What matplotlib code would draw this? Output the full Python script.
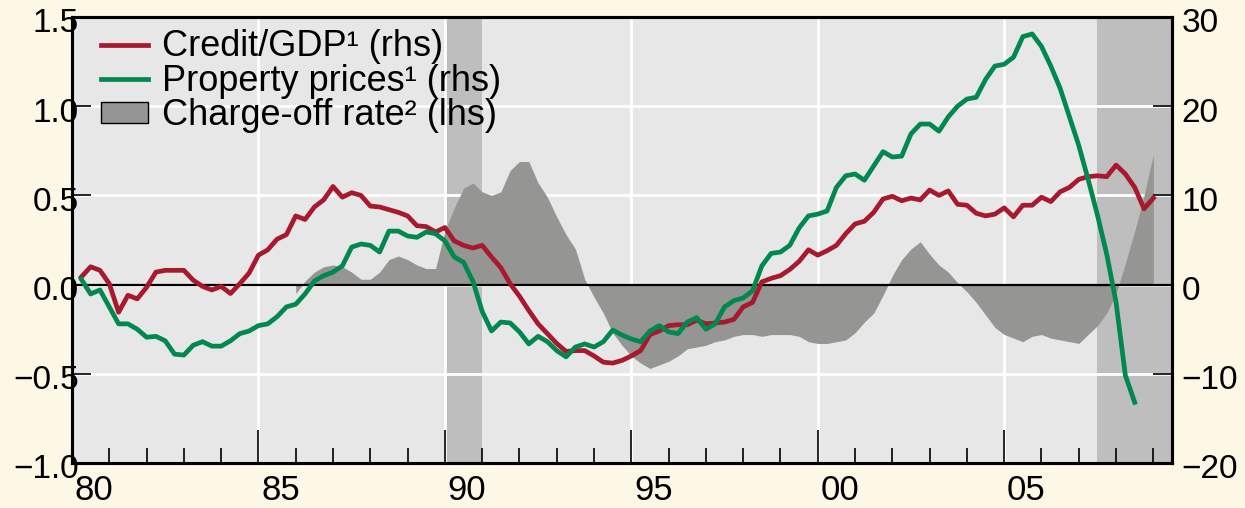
import numpy as np
import matplotlib.pyplot as plt
from matplotlib.lines import Line2D
from matplotlib.patches import Patch
from matplotlib.transforms import ScaledTranslation

plt.rcParams['font.family'] = ['Liberation Sans', 'DejaVu Sans']

# quarterly data, credit/GDP and property prices from 1980Q1, charge-off rate from 1985Q4
credit_gdp = [
    0.85, 2.0, 1.6,
    0.1, -3.1, -1.2, -1.6,
    -0.3, 1.4, 1.6, 1.6,
    1.6, 0.5, -0.2, -0.6,
    -0.2, -1.0, 0.1, 1.3,
    3.3, 3.9, 5.1, 5.6,
    7.7, 7.3, 8.7, 9.5,
    11.0, 9.8, 10.3, 10.0,
    8.8, 8.7, 8.4, 8.1,
    7.7, 6.6, 6.5, 5.9,
    6.4, 4.9, 4.4, 4.1,
    4.4, 3.1, 1.9, 0.1,
    -1.3, -2.9, -4.4, -5.5,
    -6.6, -7.5, -7.4, -7.4,
    -8.0, -8.7, -8.8, -8.5,
    -8.0, -7.4, -5.6, -5.2,
    -4.6, -4.5, -4.5, -4.0,
    -4.4, -4.3, -4.2, -3.9,
    -2.5, -2.0, 0.3, 0.7,
    1.0, 1.7, 2.6, 3.9,
    3.3, 3.8, 4.4, 5.7,
    6.8, 7.1, 8.1, 9.6,
    9.9, 9.4, 9.7, 9.5,
    10.6, 10.0, 10.5, 9.0,
    8.9, 8.0, 7.7, 7.9,
    8.6, 7.6, 8.9, 8.9,
    9.8, 9.3, 10.4, 10.9,
    11.8, 12.1, 12.2, 12.1,
    13.4, 12.4, 10.9, 8.5,
    9.7,
]

property_prices = [
    0.6, -1.05, -0.6,
    -2.5, -4.4, -4.4, -5.0,
    -5.9, -5.8, -6.3, -7.8,
    -7.9, -6.8, -6.4, -6.9,
    -6.9, -6.3, -5.5, -5.2,
    -4.6, -4.4, -3.6, -2.5,
    -2.2, -1.05, 0.4, 1.0,
    1.4, 2.1, 4.2, 4.55,
    4.4, 3.65, 6.0, 6.0,
    5.45, 5.3, 5.9, 5.7,
    4.9, 3.1, 2.5, 0.4,
    -3.0, -5.2, -4.2, -4.3,
    -5.3, -6.65, -5.8, -6.4,
    -7.4, -8.1, -7.0, -6.65,
    -7.0, -6.4, -5.1, -5.65,
    -6.1, -6.4, -5.2, -4.6,
    -5.3, -5.5, -4.2, -3.7,
    -5.0, -4.4, -2.5, -1.8,
    -1.5, -0.7, 2.1, 3.5,
    3.65, 4.4, 6.35, 7.7,
    7.9, 8.25, 10.9, 12.2,
    12.4, 11.7, 13.3, 14.9,
    14.3, 14.4, 16.9, 18.0,
    18.0, 17.2, 18.8, 20.0,
    20.8, 21.0, 23.0, 24.5,
    24.7, 25.5, 27.8, 28.1,
    26.7, 24.5, 22.0, 18.8,
    15.6, 11.8, 7.8, 3.4,
    -2.0, -10.2, -13.2,
]

charge_off = [
    -0.05, 0.02, 0.07, 0.10,
    0.11, 0.10, 0.07, 0.03,
    0.03, 0.07, 0.14, 0.16,
    0.14, 0.11, 0.09, 0.09,
    0.30, 0.43, 0.54, 0.57,
    0.52, 0.50, 0.52, 0.64,
    0.69, 0.69, 0.57, 0.49,
    0.38, 0.28, 0.20, 0.03,
    -0.07, -0.16, -0.27, -0.34,
    -0.40, -0.44, -0.47, -0.45,
    -0.43, -0.40, -0.36, -0.35,
    -0.34, -0.32, -0.31, -0.29,
    -0.28, -0.28, -0.29, -0.28,
    -0.28, -0.28, -0.29, -0.32,
    -0.33, -0.33, -0.32, -0.31,
    -0.27, -0.21, -0.16, -0.06,
    0.05, 0.14, 0.20, 0.24,
    0.17, 0.11, 0.07, 0.01,
    -0.04, -0.10, -0.17, -0.24,
    -0.28, -0.30, -0.32, -0.29,
    -0.28, -0.30, -0.31, -0.32,
    -0.33, -0.28, -0.23, -0.16,
    -0.05, 0.12, 0.30, 0.50,
    0.73,
]

recessions = [(1990.0, 1991.0), (2007.5, 2009.6)]
year_labels = ['80', '85', '90', '95', '00', '05']

t_credit = 1980.25 + 0.25 * np.arange(len(credit_gdp))
t_prop = 1980.25 + 0.25 * np.arange(len(property_prices))
t_co = 1986.0 + 0.25 * np.arange(len(charge_off))

red = '#a8192e'
green = '#00884f'
fill_grey = '#959693'

fig = plt.figure(figsize=(12.45, 5.08), dpi=100, facecolor='#fdf7e6')
ax = fig.add_axes([72 / 1245, 1 - 463 / 508, 1100 / 1245, 446 / 508])
ax.set_facecolor('#e7e7e7')
ax2 = ax.twinx()

for a, b in recessions:
    ax.axvspan(a, b, color='#bebebe', lw=0, zorder=0.2)

ax.set_axisbelow(True)
ax.grid(True, which='major', color='white', lw=2)
ax.fill_between(t_co, 0, charge_off, color=fill_grey, lw=0, zorder=1)
ax.axhline(0, color='black', lw=1.6, zorder=2)

ax2.plot(t_credit, credit_gdp, color=red, lw=3.4)
ax2.plot(t_prop, property_prices, color=green, lw=3.4)

ax.set_xlim(1980, 2009.5)
ax.set_ylim(-1.0, 1.5)
ax2.set_ylim(-20, 30)

ax.set_yticks([-1.0, -0.5, 0.0, 0.5, 1.0, 1.5])
ax2.set_yticks([-20, -10, 0, 10, 20, 30])
ax.set_xticks([1980, 1985, 1990, 1995, 2000, 2005])
ax.set_xticklabels(year_labels)
ax.set_xticks(np.arange(1981, 2010), minor=True)

ax.tick_params(axis='x', which='major', direction='in', length=24, width=1.2,
               labelsize=25, pad=8)
ax.tick_params(axis='x', which='minor', direction='in', length=11, width=1.2)
ax.tick_params(axis='y', direction='in', length=14, width=1.2, labelsize=24, pad=-5)
ax2.tick_params(axis='y', direction='in', length=14, width=1.2, labelsize=24, pad=7)

# year labels sit in the middle of the year
shift_x = ScaledTranslation(0.22, 0, fig.dpi_scale_trans)
for lab in ax.get_xticklabels():
    lab.set_transform(lab.get_transform() + shift_x)
shift_y = ScaledTranslation(0, -0.035, fig.dpi_scale_trans)
for lab in ax.get_yticklabels() + ax2.get_yticklabels():
    lab.set_transform(lab.get_transform() + shift_y)

for a in (ax, ax2):
    for s in a.spines.values():
        s.set_linewidth(2.2)
        s.set_color('black')

handles = [
    Line2D([], [], color=red, lw=3.4),
    Line2D([], [], color=green, lw=3.4),
    Patch(facecolor=fill_grey, edgecolor='black', lw=1),
]
labels = ['Credit/GDP\u00b9 (rhs)', 'Property prices\u00b9 (rhs)', 'Charge-off rate\u00b2 (lhs)']
ax2.legend(handles, labels, loc='upper left', bbox_to_anchor=(0.026, 0.972),
           frameon=False, fontsize=26, handlelength=1.3, handletextpad=0.4,
           handleheight=0.5, labelspacing=-0.02, borderaxespad=0, borderpad=0)

fig.savefig('out.png', dpi=100, facecolor=fig.get_facecolor())
